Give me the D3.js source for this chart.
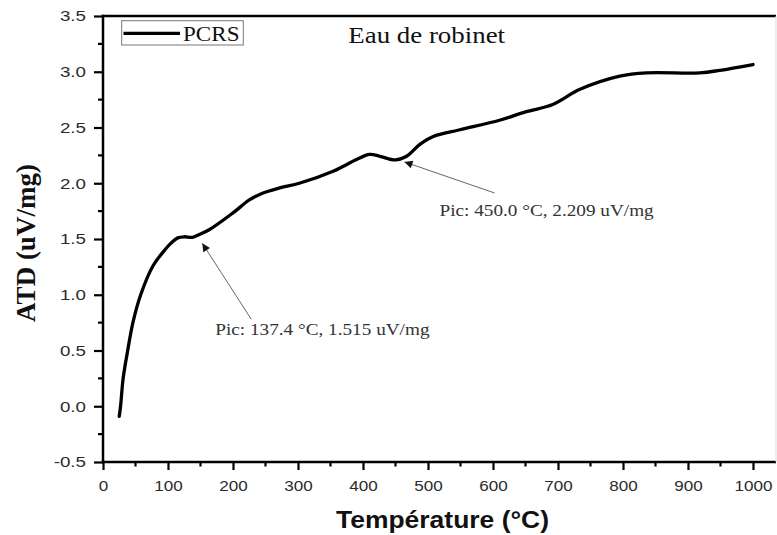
<!DOCTYPE html>
<html>
<head>
<meta charset="utf-8">
<script src="https://cdn.jsdelivr.net/npm/d3@7"></script>
<style>
  html, body { margin: 0; padding: 0; background: #fff; }
  svg { display: block; }
</style>
</head>
<body>
<svg id="chart" width="777" height="535"></svg>
<script>
// DTA curve of the PCRS sample (tap water)
const temperature = [25, 27, 31, 38, 46, 58, 77, 92, 105, 115, 125, 137.4, 148, 164, 200, 225, 241, 272, 302, 354, 390, 410, 426, 450.0, 467, 487, 508, 549, 610, 650, 692, 733, 795, 836, 918, 949, 1000];
const atd         = [-0.09, 0.0, 0.25, 0.5, 0.75, 1.0, 1.26, 1.38, 1.465, 1.51, 1.52, 1.515, 1.54, 1.585, 1.734, 1.85, 1.90, 1.958, 2.0, 2.108, 2.212, 2.258, 2.242, 2.209, 2.242, 2.347, 2.42, 2.48, 2.565, 2.64, 2.706, 2.84, 2.96, 2.99, 2.99, 3.013, 3.065];

// Labelled peaks
const peakT = [137.4, 450.0];
const peakV = [1.515, 2.209];

const xTicks = [0, 100, 200, 300, 400, 500, 600, 700, 800, 900, 1000];
const yTicks = [-0.5, 0.0, 0.5, 1.0, 1.5, 2.0, 2.5, 3.0, 3.5];

const svg = d3.select("#chart");
const L = 103, R = 776, T = 16, B = 462;

const x = d3.scaleLinear().domain([0, 1035.4]).range([L, R]);
const y = d3.scaleLinear().domain([-0.5, 3.5]).range([B, T]);

// widen glyphs horizontally by factor k
function stretch(sel, k) {
  sel.each(function () {
    const w = this.getComputedTextLength();
    this.setAttribute("textLength", w * k);
    this.setAttribute("lengthAdjust", "spacingAndGlyphs");
  });
}

// minor ticks
const xMinor = d3.range(50, 1035, 100);
const yMinor = d3.range(-0.25, 3.5, 0.5);

svg.append("g").selectAll("line").data(xMinor).join("line")
  .attr("x1", d => x(d)).attr("x2", d => x(d))
  .attr("y1", B).attr("y2", B + 4.5)
  .attr("stroke", "#000").attr("stroke-width", 2.2);

svg.append("g").selectAll("line").data(yMinor).join("line")
  .attr("y1", d => y(d)).attr("y2", d => y(d))
  .attr("x1", L).attr("x2", L - 5)
  .attr("stroke", "#000").attr("stroke-width", 2.2);

// axes
const xAxis = svg.append("g")
  .attr("transform", `translate(0,${B})`)
  .call(d3.axisBottom(x).tickValues(xTicks).tickFormat(d => String(d))
    .tickSize(8).tickSizeOuter(0).tickPadding(9.5));

const yAxis = svg.append("g")
  .attr("transform", `translate(${L},0)`)
  .call(d3.axisLeft(y).tickValues(yTicks).tickFormat(d => d.toFixed(1))
    .tickSize(9).tickSizeOuter(0).tickPadding(8));

[xAxis, yAxis].forEach(g => {
  g.select(".domain").remove();
  g.selectAll(".tick line").attr("stroke", "#000").attr("stroke-width", 2.2);
  g.selectAll(".tick text")
    .attr("fill", "#2b2b2b")
    .style("font-family", "'Liberation Sans', Arial, sans-serif")
    .style("font-size", "15.5px");
});
xAxis.selectAll(".tick text").call(stretch, 1.1);
yAxis.selectAll(".tick text").style("font-size", "15px").call(stretch, 1.25);

// axis lines and frame
svg.append("line").attr("x1", L).attr("x2", L).attr("y1", T - 1.2).attr("y2", B + 1.2)
  .attr("stroke", "#000").attr("stroke-width", 2.5);
svg.append("line").attr("x1", L - 1.2).attr("x2", R).attr("y1", B).attr("y2", B)
  .attr("stroke", "#000").attr("stroke-width", 2.5);
svg.append("line").attr("x1", L - 1.2).attr("x2", R).attr("y1", T).attr("y2", T)
  .attr("stroke", "#000").attr("stroke-width", 2.5);
svg.append("line").attr("x1", R).attr("x2", R).attr("y1", T).attr("y2", B)
  .attr("stroke", "#ddd").attr("stroke-width", 1);

// curve
const data = temperature.map((t, i) => [t, atd[i]]);
svg.append("path")
  .datum(data)
  .attr("fill", "none")
  .attr("stroke", "#000")
  .attr("stroke-width", 3.3)
  .attr("stroke-linejoin", "round")
  .attr("stroke-linecap", "round")
  .attr("d", d3.line().x(d => x(d[0])).y(d => y(d[1])).curve(d3.curveCatmullRom.alpha(0.5)));

// peak annotations
svg.append("defs").append("marker")
  .attr("id", "arrow").attr("viewBox", "0 0 10 10")
  .attr("refX", 10).attr("refY", 5)
  .attr("markerWidth", 10).attr("markerHeight", 8)
  .attr("markerUnits", "userSpaceOnUse")
  .attr("orient", "auto")
  .append("path").attr("d", "M0,0L10,5L0,10Z").attr("fill", "#111");

const notes = [
  { tip: [10, 6], tail: [59, 82], text: [23, 98] },
  { tip: [9, 2], tail: [99, 33], text: [44, 56] }
];
notes.forEach((n, i) => {
  const px = x(peakT[i]), py = y(peakV[i]);
  svg.append("line")
    .attr("x1", px + n.tail[0]).attr("y1", py + n.tail[1])
    .attr("x2", px + n.tip[0]).attr("y2", py + n.tip[1])
    .attr("stroke", "#666").attr("stroke-width", 1)
    .attr("marker-end", "url(#arrow)");
  svg.append("text")
    .attr("x", px + n.text[0]).attr("y", py + n.text[1])
    .attr("fill", "#333")
    .style("font-family", "'Liberation Serif', 'Times New Roman', serif")
    .style("font-size", "17px")
    .text(`Pic: ${peakT[i].toFixed(1)} °C, ${peakV[i].toFixed(3)} uV/mg`)
    .call(stretch, 1.13);
});

// legend
svg.append("rect").attr("x", 121.7).attr("y", 20.7).attr("width", 121.6).attr("height", 24.3)
  .attr("fill", "none").attr("stroke", "#777").attr("stroke-width", 1);
svg.append("line").attr("x1", 123.5).attr("x2", 180).attr("y1", 33.3).attr("y2", 33.3)
  .attr("stroke", "#000").attr("stroke-width", 3.3);
svg.append("text").attr("x", 183).attr("y", 40.5)
  .style("font-family", "'Liberation Serif', 'Times New Roman', serif")
  .style("font-size", "21px").attr("fill", "#111")
  .text("PCRS").call(stretch, 1.1);

// title
svg.append("text").attr("x", 348.3).attr("y", 42.7)
  .style("font-family", "'Liberation Serif', 'Times New Roman', serif")
  .style("font-size", "24px").attr("fill", "#111")
  .text("Eau de robinet").call(stretch, 1.12);

// axis titles
svg.append("text")
  .attr("x", 442.5).attr("y", 528)
  .attr("text-anchor", "middle")
  .style("font-family", "'Liberation Sans', Arial, sans-serif")
  .style("font-size", "23px").style("font-weight", "bold").attr("fill", "#111")
  .text("Température (°C)").call(stretch, 1.15);

svg.append("text")
  .attr("transform", "translate(35,243) rotate(-90)")
  .attr("text-anchor", "middle")
  .style("font-family", "'Liberation Serif', 'Times New Roman', serif")
  .style("font-size", "27px").style("font-weight", "bold").attr("fill", "#111")
  .text("ATD (uV/mg)");
</script>
</body>
</html>
